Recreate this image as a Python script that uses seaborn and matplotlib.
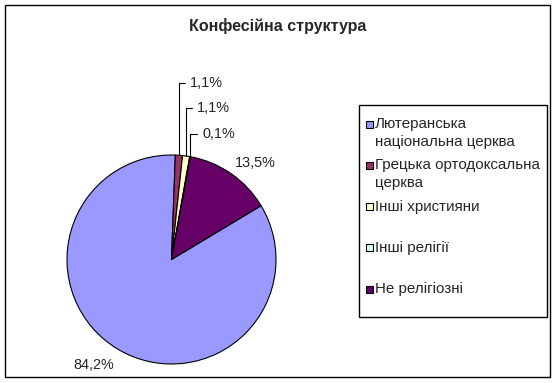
import matplotlib
matplotlib.use('Agg')
import matplotlib.pyplot as plt
import seaborn as sns
import numpy as np
from matplotlib.patches import Rectangle

# Дані діаграми
categories = ['Лютеранська\nнаціональна церква', 'Грецька ортодоксальна\nцерква',
              'Інші християни', 'Інші релігії', 'Не релігіозні']
shares = [84.2, 1.1, 1.1, 0.1, 13.5]
colors = ['#9999FF', '#993366', '#FFFFCC', '#CCFFFF', '#660066']
pct_labels = ['84,2%', '1,1%', '1,1%', '0,1%', '13,5%']
title = 'Конфесійна структура'

sns.set_style('white')
plt.rcParams['font.family'] = ['Liberation Sans', 'DejaVu Sans']

W, H = 556, 383
fig = plt.figure(figsize=(W / 100, H / 100), dpi=100)
fig.patch.set_facecolor('white')

# рамка навколо всієї діаграми
fig.patches.append(Rectangle((5 / W, 6 / H), 545 / W, 372 / H, transform=fig.transFigure,
                             fill=False, ec='black', lw=1))

fig.text(278 / W, 1 - 26 / H, title, ha='center', va='center', fontsize=11.5, fontweight='bold')

# кругова діаграма
ax = fig.add_axes([67 / W, 19 / H, 209 / W, 209 / H])
wedges, _ = ax.pie(shares, colors=sns.color_palette(colors), startangle=31, counterclock=False,
                   wedgeprops=dict(edgecolor='black', linewidth=0.8))
for w in wedges:
    w.set_clip_on(False)
ax.set_xlim(-1, 1)
ax.set_ylim(-1, 1)
ax.set_aspect('equal')
ax.axis('off')

# підписи відсотків (позиції тексту в координатах діаграми)
label_pos = [(-0.745, -1.005), (0.177, 1.69), (0.244, 1.445), (0.292, 1.20), (0.804, 0.928)]
small = [False, True, True, True, False]
for w, txt, (lx, ly), s in zip(wedges, pct_labels, label_pos, small):
    if s:
        mid = np.deg2rad((w.theta1 + w.theta2) / 2)
        ax.annotate(txt, xy=(np.cos(mid), np.sin(mid)), xytext=(lx, ly),
                    ha='left', va='center', fontsize=10.4, annotation_clip=False,
                    arrowprops=dict(arrowstyle='-', color='black', lw=0.8,
                                    connectionstyle='angle,angleA=0,angleB=90,rad=0',
                                    shrinkA=1, shrinkB=0))
    else:
        ax.text(lx, ly, txt, ha='center', va='center', fontsize=10.4)

# легенда (рамка + квадратики + текст)
fig.patches.append(Rectangle((359 / W, 1 - 317 / H), 188 / W, 212 / H, transform=fig.transFigure,
                             fill=False, ec='black', lw=1))
for i, (cat, col) in enumerate(zip(categories, colors)):
    y0 = 124 + i * 41.25
    fig.patches.append(Rectangle((366 / W, 1 - (y0 + 3.5) / H), 7 / W, 7 / H,
                                 transform=fig.transFigure, fc=col, ec='black', lw=0.8))
    for j, line in enumerate(cat.split('\n')):
        fig.text(375 / W, 1 - (y0 + j * 18) / H, line, ha='left', va='center', fontsize=10.9)

fig.savefig('out.png', dpi=100, facecolor='white')
